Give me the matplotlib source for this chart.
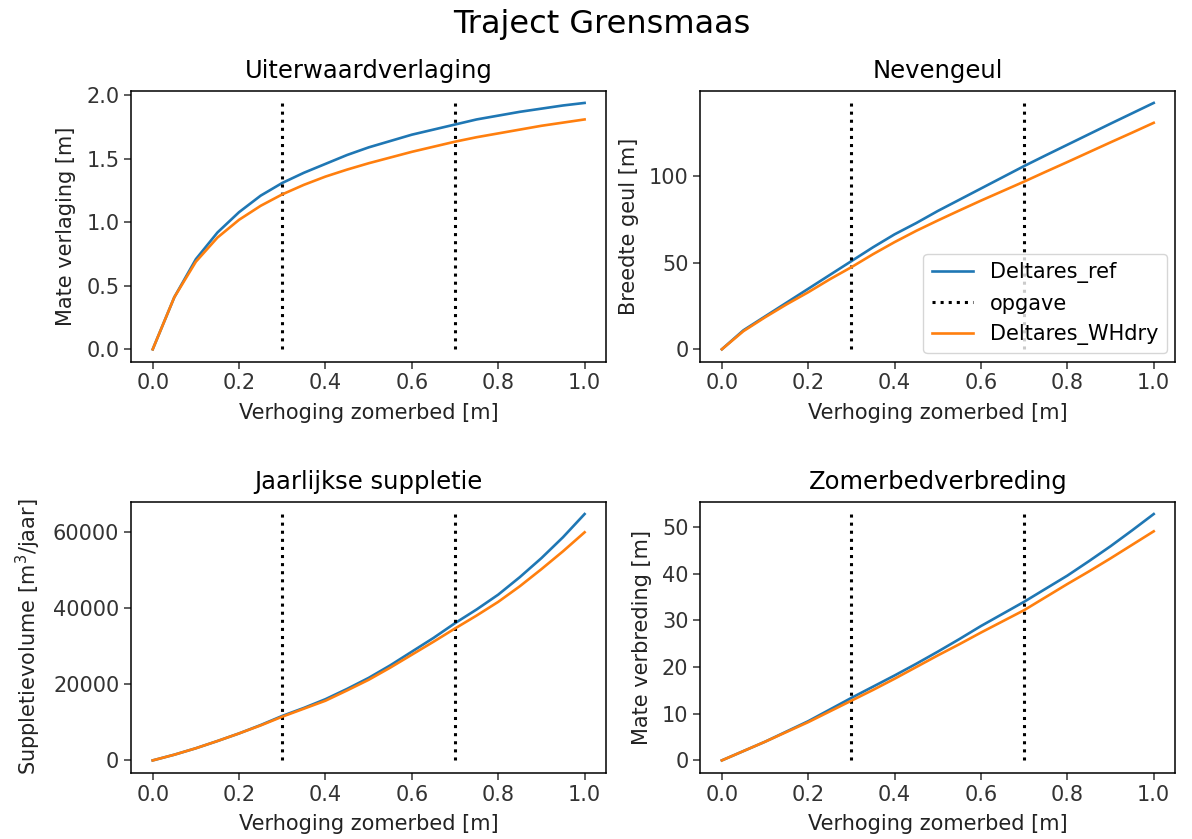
"""Trajectory Grensmaas: effect of summer-bed raising on four measures."""

import matplotlib

matplotlib.use("Agg")
import matplotlib.pyplot as plt

# --- data -----------------------------------------------------------------
verhoging = [0.0, 0.05, 0.1, 0.15, 0.2, 0.25, 0.3, 0.35, 0.4, 0.45, 0.5,
             0.55, 0.6, 0.65, 0.7, 0.75, 0.8, 0.85, 0.9, 0.95, 1.0]
opgave = [0.3, 0.7]

uiterwaard_ref = [0.0, 0.41, 0.71, 0.92, 1.08, 1.21, 1.31, 1.39, 1.46, 1.53, 1.59,
                  1.64, 1.69, 1.73, 1.77, 1.81, 1.84, 1.87, 1.895, 1.92, 1.94]
uiterwaard_whdry = [0.0, 0.41, 0.69, 0.88, 1.02, 1.13, 1.22, 1.295, 1.36, 1.415, 1.465,
                    1.51, 1.555, 1.595, 1.635, 1.67, 1.70, 1.73, 1.76, 1.785, 1.81]

nevengeul_ref = [0.0, 11.0, 19.0, 27.0, 35.0, 43.0, 51.0, 59.0, 66.5, 73.0, 80.0,
                 86.5, 93.0, 99.5, 106.0, 112.2, 118.3, 124.4, 130.5, 136.5, 142.5]
nevengeul_whdry = [0.0, 10.5, 18.5, 26.0, 33.0, 40.5, 47.5, 55.0, 62.0, 68.5, 74.5,
                   80.3, 86.0, 91.5, 97.0, 102.7, 108.3, 114.0, 119.7, 125.3, 131.0]

suppletie_ref = [0, 1500, 3200, 5100, 7100, 9300, 11700, 13800, 16100, 18800, 21700,
                 25000, 28600, 32200, 36100, 39700, 43600, 48200, 53200, 58700, 64800]
suppletie_whdry = [0, 1500, 3200, 5100, 7100, 9200, 11500, 13600, 15700, 18400, 21200,
                   24400, 27800, 31200, 34700, 38100, 41700, 45800, 50300, 55000, 60000]

verbreding_ref = [0.0, 2.0, 4.0, 6.2, 8.4, 10.9, 13.4, 15.8, 18.2, 20.7, 23.3,
                  26.0, 28.8, 31.4, 34.0, 36.8, 39.6, 42.7, 45.9, 49.3, 52.8]
verbreding_whdry = [0.0, 2.0, 4.0, 6.1, 8.2, 10.5, 12.8, 15.1, 17.5, 20.0, 22.5,
                    24.9, 27.4, 29.8, 32.2, 35.0, 37.8, 40.5, 43.3, 46.2, 49.1]

PANELS = [
    ("Uiterwaardverlaging", "Mate verlaging [m]", uiterwaard_ref, uiterwaard_whdry),
    ("Nevengeul", "Breedte geul [m]", nevengeul_ref, nevengeul_whdry),
    ("Jaarlijkse suppletie", r"Suppletievolume [m$^3$/jaar]", suppletie_ref, suppletie_whdry),
    ("Zomerbedverbreding", "Mate verbreding [m]", verbreding_ref, verbreding_whdry),
]

plt.rcParams["font.family"] = ["DejaVu Sans"]
plt.rcParams["axes.linewidth"] = 1.1
plt.rcParams["xtick.major.width"] = 1.1
plt.rcParams["ytick.major.width"] = 1.1
plt.rcParams["xtick.major.size"] = 5
plt.rcParams["ytick.major.size"] = 5


def main() -> None:
    fig, axes = plt.subplots(2, 2, figsize=(11.92, 8.39), dpi=100)
    fig.subplots_adjust(left=0.110, right=0.986, top=0.892, bottom=0.079,
                        wspace=0.198, hspace=0.517)

    for ax, (title, ylabel, ref, whdry) in zip(axes.flat, PANELS):
        ax.plot(verhoging, ref, color="#1f77b4", lw=1.9, label="Deltares_ref")
        ax.vlines(opgave, 0, max(ref), colors="black", linestyles=":", lw=2.2,
                  label="opgave")
        ax.plot(verhoging, whdry, color="#ff7f0e", lw=1.9, label="Deltares_WHdry")
        ax.set_title(title, fontsize=17.5, pad=9)
        ax.set_xlabel("Verhoging zomerbed [m]", fontsize=15, color="#222222",
                      labelpad=7)
        ax.set_ylabel(ylabel, fontsize=15, color="#222222", labelpad=7)
        ax.tick_params(labelsize=15, colors="#333333")
        ax.set_xticks([0.0, 0.2, 0.4, 0.6, 0.8, 1.0])

    axes[0, 1].legend(loc="lower right", fontsize=15, borderaxespad=0.4)

    fig.text(0.505, 0.9607, "Traject Grensmaas", fontsize=23, ha="center",
             va="baseline")
    fig.savefig("out.png", dpi=100)


if __name__ == "__main__":
    main()
